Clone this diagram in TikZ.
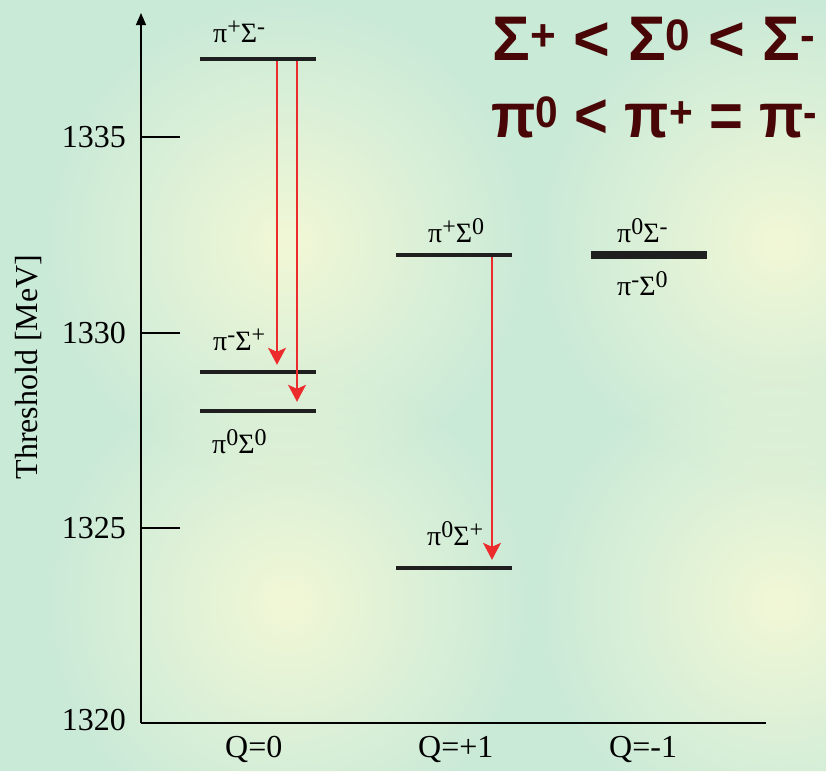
\documentclass[tikz,border=0pt]{standalone}
\usepackage{fontspec}
\setmainfont{Liberation Serif}
\newfontfamily\titlefont{Liberation Sans}
\usepackage{graphicx}
\usepackage{xcolor}
\usetikzlibrary{positioning, arrows.meta, fadings}

\definecolor{bggreen}{RGB}{202,234,216}
\definecolor{glow}{RGB}{242,248,214}
\definecolor{titlered}{RGB}{72,6,6}
\definecolor{arrred}{RGB}{236,44,44}
\newcommand{\su}[1]{\raisebox{8pt}{\fontsize{24}{24}\selectfont #1}}
\tikzfading[name=glowfade, inner color=transparent!0, outer color=transparent!100]

\begin{document}
\begin{tikzpicture}[
    x=1pt, y=-1pt,
    level/.style={fill=black!88, inner sep=0pt, minimum width=116pt, minimum height=4pt, anchor=west},
    lbl/.style={font=\fontsize{28}{30}\selectfont, inner sep=0pt, anchor=base west},
    axlbl/.style={font=\fontsize{32}{36}\selectfont, inner sep=0pt},
    ttl/.style={font=\titlefont\bfseries\fontsize{63}{70}\selectfont, text=titlered, inner sep=0pt, anchor=base west},
    arr/.style={draw=arrred, line width=1.5pt, -{Stealth[length=17pt, width=18pt, inset=4pt]}},
    glowdot/.style={fill=glow, path fading=glowfade}
  ]
  % background
  \fill[bggreen] (0,0) rectangle (826,771);
  \begin{scope}
    \clip (0,0) rectangle (826,771);
    \foreach \gx/\gy in {287/243, 287/603, 780/243, 780/603}
      \fill[glowdot] (\gx,\gy) circle (240pt);
  \end{scope}
  \useasboundingbox (0,0) rectangle (826,771);

  % axes
  \coordinate (org) at (141,723);
  \coordinate (ytop) at (141,13);
  \coordinate (xend) at (766,723);
  \draw[line width=1.3pt, -{Triangle[length=12pt, width=10pt]}] (org) -- (ytop);
  \draw[line width=1.3pt] (org) -- (xend);
  \foreach \ty/\tv in {137/1335, 333/1330, 528/1325} {
    \draw[line width=1.2pt] (141,\ty) -- (180,\ty);
    \node[axlbl, anchor=east] (t\tv) at (126,\ty) {\tv};
  }
  \node[axlbl, anchor=east] (t1320) at (126,720) {1320};
  \node[axlbl, rotate=90] (ylab) at (29,367) {Threshold [MeV]};

  \node[axlbl, anchor=base west] (q0) at (225,757) {Q=0};
  \node[axlbl, anchor=base west] (qp) at (418,757) {Q=+1};
  \node[axlbl, anchor=base west] (qm) at (609,757) {Q=-1};

  % thresholds
  \node[level] (pipSm) at (200,59) {};
  \node[level] (pimSp) at (200,372) {};
  \node[level] (p0S0) at (200,411) {};
  \node[level] (pipS0) at (396,255) {};
  \node[level] (p0Sp) at (396,568) {};
  \node[level, minimum height=8pt] (p0Sm) at (591,255) {};

  \node[lbl] (lpipSm) at (213,42) {π\su{+}Σ\su{-}};
  \node[lbl] (lpimSp) at (213,350) {π\su{-}Σ\su{+}};
  \node[lbl] (lp0S0) at (212,453) {π\su{0}Σ\su{0}};
  \node[lbl] (lpipS0) at (428,242) {π\su{+}Σ\su{0}};
  \node[lbl] (lp0Sm) at (617,242) {π\su{0}Σ\su{-}};
  \node[lbl] (lpimS0) at (617,295) {π\su{-}Σ\su{0}};
  \node[lbl] (lp0Sp) at (427,545) {π\su{0}Σ\su{+}};

  \draw[arr] ([xshift=77pt]pipSm.south west) -- ([xshift=77pt, yshift=5pt]pimSp.north west);
  \draw[arr] ([xshift=97pt]pipSm.south west) -- ([xshift=97pt, yshift=7pt]p0S0.north west);
  \draw[arr] ([xshift=96pt]pipS0.south west) -- ([xshift=96pt, yshift=6pt]p0Sp.north west);

  % mass ordering
  \node[ttl] (sigord) at (492,60) {Σ\textsuperscript{+} < Σ\textsuperscript{0} < Σ\textsuperscript{-}};
  \node[ttl] (piord) at (491,137) {\scalebox{0.92}[1]{π\textsuperscript{0} < π\textsuperscript{+} = π\textsuperscript{-}}};
\end{tikzpicture}
\end{document}
